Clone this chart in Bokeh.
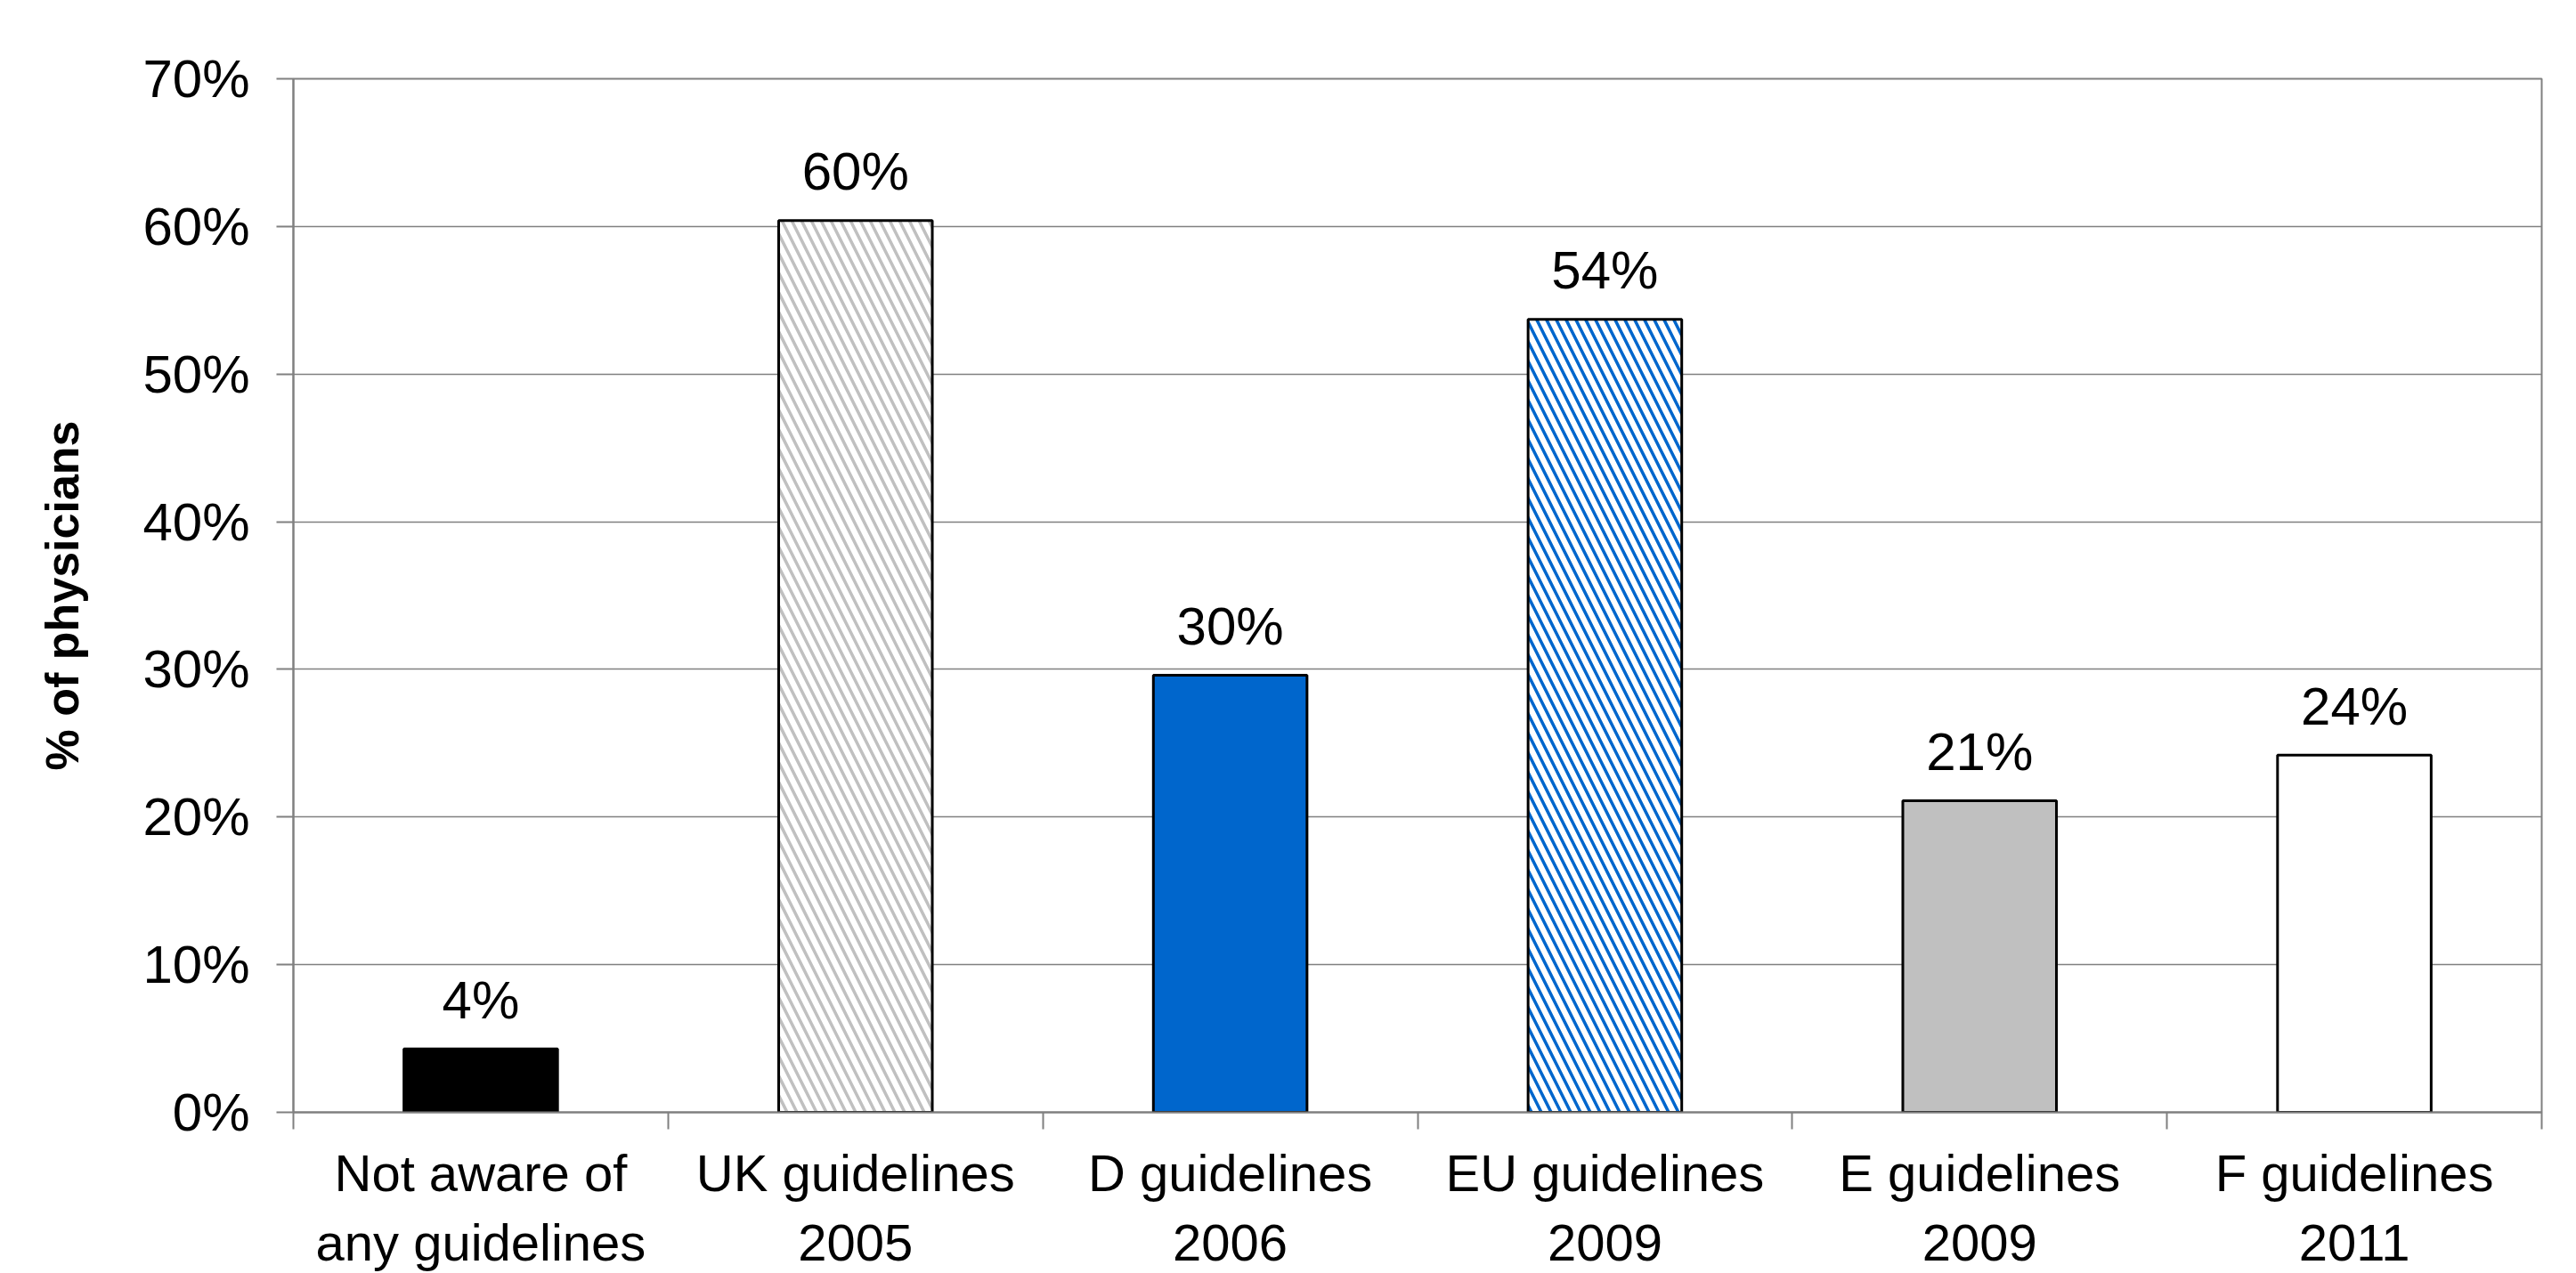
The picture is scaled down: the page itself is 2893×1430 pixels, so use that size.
from bokeh.plotting import figure
from bokeh.models import FixedTicker, PrintfTickFormatter, ColumnDataSource
from bokeh.core.properties import value
from bokeh.embed import file_html
from bokeh.resources import INLINE

categories = ["Not aware of\nany guidelines", "UK guidelines\n2005", "D guidelines\n2006",
              "EU guidelines\n2009", "E guidelines\n2009", "F guidelines\n2011"]
values = [4.3, 60.4, 29.6, 53.7, 21.1, 24.2]
labels = ["4%", "60%", "30%", "54%", "21%", "24%"]
fill_colors = ["#000000", "#FFFFFF", "#0066CC", "#FFFFFF", "#C0C0C0", "#FFFFFF"]
hatch_colors = ["#000000", "#C0C0C0", "#0066CC", "#0066CC", "#C0C0C0", "#FFFFFF"]
hatch_patterns = [" ", "left_diagonal_line", " ", "left_diagonal_line", " ", " "]
y_ticks = [0, 10, 20, 30, 40, 50, 60, 70]

FONT = "Liberation Sans"
xs = [i + 0.5 for i in range(len(categories))]

src = ColumnDataSource(dict(x=xs, top=values, lab=labels, fill=fill_colors,
                            hc=hatch_colors, hp=hatch_patterns))

p = figure(width=2893, height=1430, x_range=(0, len(categories)), y_range=(0, 70),
           output_backend="svg", toolbar_location=None,
           min_border_left=329, min_border_right=39, min_border_top=88, min_border_bottom=0)

p.vbar(x="x", top="top", bottom=0, width=0.41, source=src,
       fill_color="fill", line_color="#000000", line_width=3,
       hatch_pattern="hp", hatch_color="hc", hatch_scale=22, hatch_weight=3.5)

p.text(x="x", y="top", text="lab", source=src, text_align="center",
       text_baseline="alphabetic", y_offset=-55,
       text_font=value(FONT), text_font_size="60px", text_color="#000000")

# frame / grid
p.outline_line_color = "#808080"
p.outline_line_width = 2
p.xgrid.visible = False
p.ygrid.grid_line_color = "#808080"
p.ygrid.grid_line_width = 1.5
p.ygrid.ticker = FixedTicker(ticks=y_ticks)

# y axis
ya = p.yaxis[0]
ya.ticker = FixedTicker(ticks=y_ticks)
ya.formatter = PrintfTickFormatter(format="%d%%")
ya.axis_line_color = "#808080"
ya.axis_line_width = 2
ya.major_tick_line_color = "#808080"
ya.major_tick_line_width = 2
ya.major_tick_in = 0
ya.major_tick_out = 19
ya.minor_tick_line_color = None
ya.major_label_standoff = 30
ya.major_label_text_font = FONT
ya.major_label_text_font_size = "60px"
ya.major_label_text_color = "#000000"
ya.axis_label = "% of physicians"
ya.axis_label_text_font = FONT
ya.axis_label_text_font_size = "52px"
ya.axis_label_text_font_style = "bold"
ya.axis_label_text_color = "#000000"
ya.axis_label_standoff = 58

# x axis
xa = p.xaxis[0]
xa.ticker = FixedTicker(ticks=xs, minor_ticks=list(range(len(categories) + 1)))
xa.major_label_overrides = {x: c for x, c in zip(xs, categories)}
xa.axis_line_color = "#808080"
xa.axis_line_width = 2
xa.major_tick_line_color = None
xa.major_tick_in = 0
xa.major_tick_out = 19
xa.minor_tick_line_color = "#808080"
xa.minor_tick_line_width = 2
xa.minor_tick_in = 0
xa.minor_tick_out = 19
xa.major_label_standoff = 16
xa.major_label_text_font = FONT
xa.major_label_text_font_size = "58px"
xa.major_label_text_color = "#000000"
xa.major_label_text_line_height = 1.2

p.background_fill_color = "#FFFFFF"
p.border_fill_color = "#FFFFFF"

open("out.html", "w").write(file_html(p, INLINE))
